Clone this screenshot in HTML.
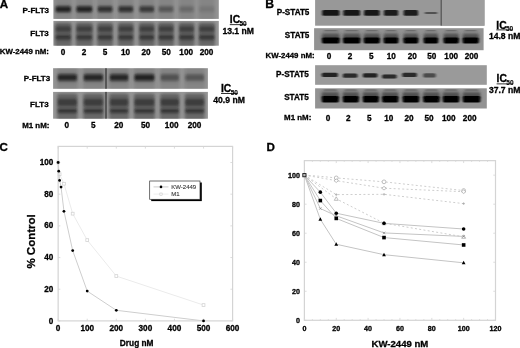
<!DOCTYPE html>
<html lang="en"><head><meta charset="utf-8"><title>KW-2449 figure</title>
<style>html,body{margin:0;padding:0;background:#fff;}body{width:520px;height:348px;overflow:hidden;}svg{display:block;font-family:'Liberation Sans', sans-serif;}</style>
</head><body>
<svg width="520" height="348" viewBox="0 0 520 348">
<defs>
<filter id="b1" x="-20%" y="-60%" width="140%" height="220%"><feGaussianBlur stdDeviation="1.3 1.1"/></filter>
<filter id="b2" x="-20%" y="-60%" width="140%" height="220%"><feGaussianBlur stdDeviation="1.4 1.6"/></filter>
<filter id="b0" x="-20%" y="-60%" width="140%" height="220%"><feGaussianBlur stdDeviation="0.8 0.6"/></filter>
<filter id="bl" x="-30%" y="-10%" width="160%" height="120%"><feGaussianBlur stdDeviation="1.6 0.8"/></filter>
<filter id="soft" x="0" y="0" width="520" height="348" filterUnits="userSpaceOnUse"><feGaussianBlur stdDeviation="0.4"/></filter>
<clipPath id="cA1"><rect x="53.4" y="0" width="165.4" height="18.9"/></clipPath>
<clipPath id="cA2"><rect x="53.4" y="20.9" width="165.4" height="24.800000000000004"/></clipPath>
<clipPath id="cA3"><rect x="53.1" y="68.2" width="154.8" height="20.599999999999994"/></clipPath>
<clipPath id="cA4"><rect x="53.1" y="91.9" width="154.8" height="26.799999999999997"/></clipPath>
<clipPath id="cB1"><rect x="315.1" y="0" width="169.39999999999998" height="25.7"/></clipPath>
<clipPath id="cB2"><rect x="314.1" y="28.2" width="169.5" height="22.000000000000004"/></clipPath>
<clipPath id="cB3"><rect x="315.1" y="65.2" width="171.7" height="19.599999999999994"/></clipPath>
<clipPath id="cB4"><rect x="315.1" y="88.3" width="171.7" height="20.200000000000003"/></clipPath>
</defs>
<rect width="520" height="348" fill="#fff"/>
<g filter="url(#soft)">
<g id="panelA">
<text x="-0.20" y="8.30" font-size="11.6" text-anchor="start" font-weight="bold" fill="#000" stroke="#000" stroke-width="0.3" >A</text>
<rect x="53.40" y="0.00" width="165.40" height="18.90" fill="#949494" />
<rect x="53.40" y="20.90" width="165.40" height="24.80" fill="#969696" />
<g clip-path="url(#cA1)">
<rect x="55.00" y="-3.00" width="16.60" height="25.00" rx="1.5" fill="#555" opacity="0.22" filter="url(#bl)"/>
<rect x="55.50" y="5.20" width="15.60" height="8.00" rx="1.5" fill="#333" opacity="0.2975" filter="url(#b2)"/>
<rect x="55.80" y="6.60" width="15.00" height="5.20" rx="1.5" fill="#161616" opacity="0.85" filter="url(#b1)"/>
<rect x="75.80" y="-3.00" width="17.10" height="25.00" rx="1.5" fill="#555" opacity="0.22" filter="url(#bl)"/>
<rect x="76.30" y="5.20" width="16.10" height="8.00" rx="1.5" fill="#333" opacity="0.2975" filter="url(#b2)"/>
<rect x="76.60" y="6.60" width="15.50" height="5.20" rx="1.5" fill="#161616" opacity="0.85" filter="url(#b1)"/>
<rect x="97.10" y="-3.00" width="16.00" height="25.00" rx="1.5" fill="#555" opacity="0.22" filter="url(#bl)"/>
<rect x="97.60" y="5.20" width="15.00" height="8.00" rx="1.5" fill="#333" opacity="0.24499999999999997" filter="url(#b2)"/>
<rect x="97.90" y="6.60" width="14.40" height="5.20" rx="1.5" fill="#161616" opacity="0.7" filter="url(#b1)"/>
<rect x="117.80" y="-3.00" width="16.00" height="25.00" rx="1.5" fill="#555" opacity="0.22" filter="url(#bl)"/>
<rect x="118.30" y="5.20" width="15.00" height="8.00" rx="1.5" fill="#333" opacity="0.24499999999999997" filter="url(#b2)"/>
<rect x="118.60" y="6.60" width="14.40" height="5.20" rx="1.5" fill="#161616" opacity="0.7" filter="url(#b1)"/>
<rect x="138.80" y="-3.00" width="16.00" height="25.00" rx="1.5" fill="#555" opacity="0.22" filter="url(#bl)"/>
<rect x="139.30" y="5.20" width="15.00" height="8.00" rx="1.5" fill="#333" opacity="0.217" filter="url(#b2)"/>
<rect x="139.60" y="6.60" width="14.40" height="5.20" rx="1.5" fill="#161616" opacity="0.62" filter="url(#b1)"/>
<rect x="157.90" y="-3.00" width="16.20" height="25.00" rx="1.5" fill="#555" opacity="0.22" filter="url(#bl)"/>
<rect x="158.40" y="5.20" width="15.20" height="8.00" rx="1.5" fill="#333" opacity="0.12249999999999998" filter="url(#b2)"/>
<rect x="158.70" y="6.60" width="14.60" height="5.20" rx="1.5" fill="#161616" opacity="0.35" filter="url(#b1)"/>
<rect x="178.60" y="-3.00" width="15.90" height="25.00" rx="1.5" fill="#555" opacity="0.22" filter="url(#bl)"/>
<rect x="179.10" y="5.20" width="14.90" height="8.00" rx="1.5" fill="#333" opacity="0.06999999999999999" filter="url(#b2)"/>
<rect x="179.40" y="6.60" width="14.30" height="5.20" rx="1.5" fill="#161616" opacity="0.2" filter="url(#b1)"/>
<rect x="198.50" y="-3.00" width="16.60" height="25.00" rx="1.5" fill="#555" opacity="0.22" filter="url(#bl)"/>
<rect x="199.00" y="5.20" width="15.60" height="8.00" rx="1.5" fill="#333" opacity="0.034999999999999996" filter="url(#b2)"/>
<rect x="199.30" y="6.60" width="15.00" height="5.20" rx="1.5" fill="#161616" opacity="0.1" filter="url(#b1)"/>
</g>
<g clip-path="url(#cA2)">
<rect x="55.20" y="22.50" width="16.20" height="27.50" rx="1.5" fill="#3a3a3a" opacity="0.5" filter="url(#bl)"/>
<rect x="55.50" y="24.50" width="15.60" height="17.50" rx="1.5" fill="#383838" opacity="0.22" filter="url(#b2)"/>
<rect x="55.80" y="26.40" width="15.00" height="5.20" rx="1.5" fill="#222" opacity="0.5" filter="url(#b1)"/>
<rect x="55.80" y="35.20" width="15.00" height="4.00" rx="1.5" fill="#1c1c1c" opacity="0.6" filter="url(#b1)"/>
<rect x="76.00" y="22.50" width="16.70" height="27.50" rx="1.5" fill="#3a3a3a" opacity="0.5" filter="url(#bl)"/>
<rect x="76.30" y="24.50" width="16.10" height="17.50" rx="1.5" fill="#383838" opacity="0.22" filter="url(#b2)"/>
<rect x="76.60" y="26.40" width="15.50" height="5.20" rx="1.5" fill="#222" opacity="0.5" filter="url(#b1)"/>
<rect x="76.60" y="35.20" width="15.50" height="4.00" rx="1.5" fill="#1c1c1c" opacity="0.6" filter="url(#b1)"/>
<rect x="97.30" y="22.50" width="15.60" height="27.50" rx="1.5" fill="#3a3a3a" opacity="0.5" filter="url(#bl)"/>
<rect x="97.60" y="24.50" width="15.00" height="17.50" rx="1.5" fill="#383838" opacity="0.22" filter="url(#b2)"/>
<rect x="97.90" y="26.40" width="14.40" height="5.20" rx="1.5" fill="#222" opacity="0.5" filter="url(#b1)"/>
<rect x="97.90" y="35.20" width="14.40" height="4.00" rx="1.5" fill="#1c1c1c" opacity="0.6" filter="url(#b1)"/>
<rect x="118.00" y="22.50" width="15.60" height="27.50" rx="1.5" fill="#3a3a3a" opacity="0.5" filter="url(#bl)"/>
<rect x="118.30" y="24.50" width="15.00" height="17.50" rx="1.5" fill="#383838" opacity="0.22" filter="url(#b2)"/>
<rect x="118.60" y="26.40" width="14.40" height="5.20" rx="1.5" fill="#222" opacity="0.5" filter="url(#b1)"/>
<rect x="118.60" y="35.20" width="14.40" height="4.00" rx="1.5" fill="#1c1c1c" opacity="0.6" filter="url(#b1)"/>
<rect x="139.00" y="22.50" width="15.60" height="27.50" rx="1.5" fill="#3a3a3a" opacity="0.5" filter="url(#bl)"/>
<rect x="139.30" y="24.50" width="15.00" height="17.50" rx="1.5" fill="#383838" opacity="0.22" filter="url(#b2)"/>
<rect x="139.60" y="26.40" width="14.40" height="5.20" rx="1.5" fill="#222" opacity="0.5" filter="url(#b1)"/>
<rect x="139.60" y="35.20" width="14.40" height="4.00" rx="1.5" fill="#1c1c1c" opacity="0.6" filter="url(#b1)"/>
<rect x="158.10" y="22.50" width="15.80" height="27.50" rx="1.5" fill="#3a3a3a" opacity="0.5" filter="url(#bl)"/>
<rect x="158.40" y="24.50" width="15.20" height="17.50" rx="1.5" fill="#383838" opacity="0.22" filter="url(#b2)"/>
<rect x="158.70" y="26.40" width="14.60" height="5.20" rx="1.5" fill="#222" opacity="0.5" filter="url(#b1)"/>
<rect x="158.70" y="35.20" width="14.60" height="4.00" rx="1.5" fill="#1c1c1c" opacity="0.6" filter="url(#b1)"/>
<rect x="178.80" y="22.50" width="15.50" height="27.50" rx="1.5" fill="#3a3a3a" opacity="0.5" filter="url(#bl)"/>
<rect x="179.10" y="24.50" width="14.90" height="17.50" rx="1.5" fill="#383838" opacity="0.22" filter="url(#b2)"/>
<rect x="179.40" y="26.40" width="14.30" height="5.20" rx="1.5" fill="#222" opacity="0.5" filter="url(#b1)"/>
<rect x="179.40" y="35.20" width="14.30" height="4.00" rx="1.5" fill="#1c1c1c" opacity="0.6" filter="url(#b1)"/>
<rect x="198.70" y="22.50" width="16.20" height="27.50" rx="1.5" fill="#3a3a3a" opacity="0.5" filter="url(#bl)"/>
<rect x="199.00" y="24.50" width="15.60" height="17.50" rx="1.5" fill="#383838" opacity="0.22" filter="url(#b2)"/>
<rect x="199.30" y="26.40" width="15.00" height="5.20" rx="1.5" fill="#222" opacity="0.5" filter="url(#b1)"/>
<rect x="199.30" y="35.20" width="15.00" height="4.00" rx="1.5" fill="#1c1c1c" opacity="0.6" filter="url(#b1)"/>
</g>
<text x="49.00" y="12.90" font-size="8.0" text-anchor="end" font-weight="bold" fill="#000" stroke="#000" stroke-width="0.3" >P-FLT3</text>
<text x="48.80" y="35.50" font-size="8.0" text-anchor="end" font-weight="bold" fill="#000" stroke="#000" stroke-width="0.3" >FLT3</text>
<text x="48.90" y="54.20" font-size="7.85" text-anchor="end" font-weight="bold" fill="#000" stroke="#000" stroke-width="0.3" >KW-2449 nM:</text>
<text x="63.00" y="54.90" font-size="8.2" text-anchor="middle" font-weight="bold" fill="#000" stroke="#000" stroke-width="0.3" >0</text>
<text x="84.00" y="54.90" font-size="8.2" text-anchor="middle" font-weight="bold" fill="#000" stroke="#000" stroke-width="0.3" >2</text>
<text x="105.00" y="54.90" font-size="8.2" text-anchor="middle" font-weight="bold" fill="#000" stroke="#000" stroke-width="0.3" >5</text>
<text x="125.60" y="54.90" font-size="8.2" text-anchor="middle" font-weight="bold" fill="#000" stroke="#000" stroke-width="0.3" >10</text>
<text x="146.00" y="54.90" font-size="8.2" text-anchor="middle" font-weight="bold" fill="#000" stroke="#000" stroke-width="0.3" >20</text>
<text x="166.30" y="54.90" font-size="8.2" text-anchor="middle" font-weight="bold" fill="#000" stroke="#000" stroke-width="0.3" >50</text>
<text x="186.20" y="54.90" font-size="8.2" text-anchor="middle" font-weight="bold" fill="#000" stroke="#000" stroke-width="0.3" >100</text>
<text x="206.60" y="54.90" font-size="8.2" text-anchor="middle" font-weight="bold" fill="#000" stroke="#000" stroke-width="0.3" >200</text>
<text x="229.8" y="23.4" font-size="10.3" font-weight="bold" stroke="#000" stroke-width="0.3">IC<tspan font-size="6.5" dy="2.4" dx="-0.6" stroke-width="0.1">50</tspan></text>
<rect x="229.80" y="24.30" width="16.60" height="0.80" fill="#000" />
<text x="222.40" y="34.20" font-size="8.6" text-anchor="start" font-weight="bold" fill="#000" stroke="#000" stroke-width="0.3" >13.1 nM</text>
<rect x="53.10" y="68.20" width="154.80" height="20.60" fill="#949494" />
<rect x="53.10" y="91.90" width="154.80" height="26.80" fill="#969696" />
<g clip-path="url(#cA3)">
<rect x="57.00" y="64.00" width="20.60" height="28.00" rx="1.5" fill="#555" opacity="0.22" filter="url(#bl)"/>
<rect x="57.50" y="73.00" width="19.60" height="9.40" rx="1.5" fill="#333" opacity="0.27999999999999997" filter="url(#b2)"/>
<rect x="57.80" y="74.40" width="19.00" height="6.20" rx="1.5" fill="#161616" opacity="0.8" filter="url(#b1)"/>
<rect x="83.10" y="64.00" width="20.60" height="28.00" rx="1.5" fill="#555" opacity="0.22" filter="url(#bl)"/>
<rect x="83.60" y="73.00" width="19.60" height="9.40" rx="1.5" fill="#333" opacity="0.27999999999999997" filter="url(#b2)"/>
<rect x="83.90" y="74.40" width="19.00" height="6.20" rx="1.5" fill="#161616" opacity="0.8" filter="url(#b1)"/>
<rect x="109.20" y="64.00" width="19.70" height="28.00" rx="1.5" fill="#555" opacity="0.22" filter="url(#bl)"/>
<rect x="109.70" y="73.00" width="18.70" height="9.40" rx="1.5" fill="#333" opacity="0.27999999999999997" filter="url(#b2)"/>
<rect x="110.00" y="74.40" width="18.10" height="6.20" rx="1.5" fill="#161616" opacity="0.8" filter="url(#b1)"/>
<rect x="133.80" y="64.00" width="21.20" height="28.00" rx="1.5" fill="#555" opacity="0.22" filter="url(#bl)"/>
<rect x="134.30" y="73.00" width="20.20" height="9.40" rx="1.5" fill="#333" opacity="0.2975" filter="url(#b2)"/>
<rect x="134.60" y="74.40" width="19.60" height="6.20" rx="1.5" fill="#161616" opacity="0.85" filter="url(#b1)"/>
<rect x="160.00" y="64.00" width="19.60" height="28.00" rx="1.5" fill="#555" opacity="0.22" filter="url(#bl)"/>
<rect x="160.50" y="73.00" width="18.60" height="9.40" rx="1.5" fill="#333" opacity="0.13999999999999999" filter="url(#b2)"/>
<rect x="160.80" y="74.40" width="18.00" height="6.20" rx="1.5" fill="#161616" opacity="0.4" filter="url(#b1)"/>
<rect x="184.60" y="64.00" width="20.20" height="28.00" rx="1.5" fill="#555" opacity="0.22" filter="url(#bl)"/>
<rect x="185.10" y="73.00" width="19.20" height="9.40" rx="1.5" fill="#333" opacity="0.12249999999999998" filter="url(#b2)"/>
<rect x="185.40" y="74.40" width="18.60" height="6.20" rx="1.5" fill="#161616" opacity="0.35" filter="url(#b1)"/>
</g>
<g clip-path="url(#cA4)">
<rect x="57.20" y="93.50" width="20.20" height="29.50" rx="1.5" fill="#3a3a3a" opacity="0.5" filter="url(#bl)"/>
<rect x="57.50" y="96.50" width="19.60" height="17.50" rx="1.5" fill="#383838" opacity="0.22" filter="url(#b2)"/>
<rect x="57.80" y="99.20" width="19.00" height="6.20" rx="1.5" fill="#222" opacity="0.55" filter="url(#b1)"/>
<rect x="57.80" y="109.20" width="19.00" height="3.40" rx="1.5" fill="#1c1c1c" opacity="0.65" filter="url(#b1)"/>
<rect x="83.30" y="93.50" width="20.20" height="29.50" rx="1.5" fill="#3a3a3a" opacity="0.5" filter="url(#bl)"/>
<rect x="83.60" y="96.50" width="19.60" height="17.50" rx="1.5" fill="#383838" opacity="0.22" filter="url(#b2)"/>
<rect x="83.90" y="99.20" width="19.00" height="6.20" rx="1.5" fill="#222" opacity="0.55" filter="url(#b1)"/>
<rect x="83.90" y="109.20" width="19.00" height="3.40" rx="1.5" fill="#1c1c1c" opacity="0.65" filter="url(#b1)"/>
<rect x="109.40" y="93.50" width="19.30" height="29.50" rx="1.5" fill="#3a3a3a" opacity="0.5" filter="url(#bl)"/>
<rect x="109.70" y="96.50" width="18.70" height="17.50" rx="1.5" fill="#383838" opacity="0.22" filter="url(#b2)"/>
<rect x="110.00" y="99.20" width="18.10" height="6.20" rx="1.5" fill="#222" opacity="0.55" filter="url(#b1)"/>
<rect x="110.00" y="109.20" width="18.10" height="3.40" rx="1.5" fill="#1c1c1c" opacity="0.65" filter="url(#b1)"/>
<rect x="134.00" y="93.50" width="20.80" height="29.50" rx="1.5" fill="#3a3a3a" opacity="0.5" filter="url(#bl)"/>
<rect x="134.30" y="96.50" width="20.20" height="17.50" rx="1.5" fill="#383838" opacity="0.22" filter="url(#b2)"/>
<rect x="134.60" y="99.20" width="19.60" height="6.20" rx="1.5" fill="#222" opacity="0.55" filter="url(#b1)"/>
<rect x="134.60" y="109.20" width="19.60" height="3.40" rx="1.5" fill="#1c1c1c" opacity="0.65" filter="url(#b1)"/>
<rect x="160.20" y="93.50" width="19.20" height="29.50" rx="1.5" fill="#3a3a3a" opacity="0.5" filter="url(#bl)"/>
<rect x="160.50" y="96.50" width="18.60" height="17.50" rx="1.5" fill="#383838" opacity="0.22" filter="url(#b2)"/>
<rect x="160.80" y="99.20" width="18.00" height="6.20" rx="1.5" fill="#222" opacity="0.55" filter="url(#b1)"/>
<rect x="160.80" y="109.20" width="18.00" height="3.40" rx="1.5" fill="#1c1c1c" opacity="0.65" filter="url(#b1)"/>
<rect x="184.80" y="93.50" width="19.80" height="29.50" rx="1.5" fill="#3a3a3a" opacity="0.5" filter="url(#bl)"/>
<rect x="185.10" y="96.50" width="19.20" height="17.50" rx="1.5" fill="#383838" opacity="0.22" filter="url(#b2)"/>
<rect x="185.40" y="99.20" width="18.60" height="6.20" rx="1.5" fill="#222" opacity="0.55" filter="url(#b1)"/>
<rect x="185.40" y="109.20" width="18.60" height="3.40" rx="1.5" fill="#1c1c1c" opacity="0.65" filter="url(#b1)"/>
</g>
<rect x="105.50" y="68.20" width="1.00" height="20.60" fill="#1a1a1a" />
<rect x="105.50" y="91.90" width="1.00" height="26.80" fill="#1a1a1a" />
<text x="50.20" y="80.50" font-size="8.0" text-anchor="end" font-weight="bold" fill="#000" stroke="#000" stroke-width="0.3" >P-FLT3</text>
<text x="48.60" y="107.00" font-size="8.0" text-anchor="end" font-weight="bold" fill="#000" stroke="#000" stroke-width="0.3" >FLT3</text>
<text x="49.40" y="127.50" font-size="7.9" text-anchor="end" font-weight="bold" fill="#000" stroke="#000" stroke-width="0.3" >M1 nM:</text>
<text x="66.80" y="127.80" font-size="8.2" text-anchor="middle" font-weight="bold" fill="#000" stroke="#000" stroke-width="0.3" >0</text>
<text x="93.30" y="127.80" font-size="8.2" text-anchor="middle" font-weight="bold" fill="#000" stroke="#000" stroke-width="0.3" >5</text>
<text x="118.70" y="127.80" font-size="8.2" text-anchor="middle" font-weight="bold" fill="#000" stroke="#000" stroke-width="0.3" >20</text>
<text x="145.50" y="127.80" font-size="8.2" text-anchor="middle" font-weight="bold" fill="#000" stroke="#000" stroke-width="0.3" >50</text>
<text x="171.70" y="127.80" font-size="8.2" text-anchor="middle" font-weight="bold" fill="#000" stroke="#000" stroke-width="0.3" >100</text>
<text x="194.50" y="127.80" font-size="8.2" text-anchor="middle" font-weight="bold" fill="#000" stroke="#000" stroke-width="0.3" >200</text>
<text x="221" y="92.3" font-size="10.3" font-weight="bold" stroke="#000" stroke-width="0.3">IC<tspan font-size="6.5" dy="2.4" dx="-0.6" stroke-width="0.1">50</tspan></text>
<rect x="221.00" y="93.20" width="16.60" height="0.80" fill="#000" />
<text x="213.30" y="102.70" font-size="8.6" text-anchor="start" font-weight="bold" fill="#000" stroke="#000" stroke-width="0.3" >40.9 nM</text>
</g>
<g id="panelB">
<text x="265.20" y="8.10" font-size="12.2" text-anchor="start" font-weight="bold" fill="#000" stroke="#000" stroke-width="0.3" >B</text>
<rect x="315.10" y="0.00" width="169.40" height="25.70" fill="#989898" />
<rect x="441.60" y="0.00" width="42.90" height="25.70" fill="#9e9e9e" />
<rect x="440.70" y="0.00" width="0.90" height="25.70" fill="#3c3c3c" />
<rect x="314.10" y="28.20" width="169.50" height="22.00" fill="#929292" />
<g clip-path="url(#cB1)">
<rect x="322.20" y="9.90" width="17.20" height="5.80" rx="1.5" fill="#0a0a0a" opacity="0.95" filter="url(#b0)"/>
<rect x="343.30" y="9.90" width="16.80" height="5.80" rx="1.5" fill="#0a0a0a" opacity="0.92" filter="url(#b0)"/>
<rect x="364.00" y="9.90" width="15.60" height="5.80" rx="1.5" fill="#0a0a0a" opacity="0.92" filter="url(#b0)"/>
<rect x="383.90" y="9.90" width="14.20" height="5.80" rx="1.5" fill="#0a0a0a" opacity="0.88" filter="url(#b0)"/>
<rect x="403.70" y="9.90" width="14.30" height="5.80" rx="1.5" fill="#0a0a0a" opacity="0.9" filter="url(#b0)"/>
<rect x="424.50" y="11.90" width="12.80" height="2.20" rx="1.5" fill="#222" opacity="0.6" filter="url(#b0)"/>
</g>
<g clip-path="url(#cB2)">
<rect x="321.80" y="33.60" width="18.00" height="7.40" rx="1.5" fill="#2c2c2c" opacity="0.65" filter="url(#b2)"/>
<rect x="322.00" y="37.60" width="17.60" height="5.80" rx="1.5" fill="#060606" opacity="0.97" filter="url(#b0)"/>
<rect x="323.80" y="30.30" width="14.00" height="1.00" rx="1.5" fill="#333" opacity="0.5" filter="url(#b0)"/>
<rect x="342.90" y="33.60" width="17.60" height="7.40" rx="1.5" fill="#2c2c2c" opacity="0.65" filter="url(#b2)"/>
<rect x="343.10" y="37.60" width="17.20" height="5.80" rx="1.5" fill="#060606" opacity="0.97" filter="url(#b0)"/>
<rect x="344.90" y="30.30" width="13.60" height="1.00" rx="1.5" fill="#333" opacity="0.5" filter="url(#b0)"/>
<rect x="363.60" y="33.60" width="16.40" height="7.40" rx="1.5" fill="#2c2c2c" opacity="0.65" filter="url(#b2)"/>
<rect x="363.80" y="37.60" width="16.00" height="5.80" rx="1.5" fill="#060606" opacity="0.97" filter="url(#b0)"/>
<rect x="365.60" y="30.30" width="12.40" height="1.00" rx="1.5" fill="#333" opacity="0.5" filter="url(#b0)"/>
<rect x="383.50" y="33.60" width="15.00" height="7.40" rx="1.5" fill="#2c2c2c" opacity="0.65" filter="url(#b2)"/>
<rect x="383.70" y="37.60" width="14.60" height="5.80" rx="1.5" fill="#060606" opacity="0.97" filter="url(#b0)"/>
<rect x="385.50" y="30.30" width="11.00" height="1.00" rx="1.5" fill="#333" opacity="0.5" filter="url(#b0)"/>
<rect x="403.30" y="33.60" width="15.10" height="7.40" rx="1.5" fill="#2c2c2c" opacity="0.65" filter="url(#b2)"/>
<rect x="403.50" y="37.60" width="14.70" height="5.80" rx="1.5" fill="#060606" opacity="0.97" filter="url(#b0)"/>
<rect x="405.30" y="30.30" width="11.10" height="1.00" rx="1.5" fill="#333" opacity="0.5" filter="url(#b0)"/>
<rect x="423.50" y="33.60" width="14.80" height="7.40" rx="1.5" fill="#2c2c2c" opacity="0.65" filter="url(#b2)"/>
<rect x="423.70" y="37.60" width="14.40" height="5.80" rx="1.5" fill="#060606" opacity="0.97" filter="url(#b0)"/>
<rect x="425.50" y="30.30" width="10.80" height="1.00" rx="1.5" fill="#333" opacity="0.5" filter="url(#b0)"/>
<rect x="443.40" y="33.60" width="15.60" height="7.40" rx="1.5" fill="#2c2c2c" opacity="0.65" filter="url(#b2)"/>
<rect x="443.60" y="37.60" width="15.20" height="5.80" rx="1.5" fill="#060606" opacity="0.97" filter="url(#b0)"/>
<rect x="445.40" y="30.30" width="11.60" height="1.00" rx="1.5" fill="#333" opacity="0.5" filter="url(#b0)"/>
<rect x="462.50" y="33.60" width="16.40" height="7.40" rx="1.5" fill="#2c2c2c" opacity="0.65" filter="url(#b2)"/>
<rect x="462.70" y="37.60" width="16.00" height="5.80" rx="1.5" fill="#060606" opacity="0.97" filter="url(#b0)"/>
<rect x="464.50" y="30.30" width="12.40" height="1.00" rx="1.5" fill="#333" opacity="0.5" filter="url(#b0)"/>
</g>
<text x="309.40" y="15.30" font-size="8.15" text-anchor="end" font-weight="bold" fill="#000" stroke="#000" stroke-width="0.3" >P-STAT5</text>
<text x="309.40" y="37.60" font-size="8.15" text-anchor="end" font-weight="bold" fill="#000" stroke="#000" stroke-width="0.3" >STAT5</text>
<text x="314.60" y="58.00" font-size="7.85" text-anchor="end" font-weight="bold" fill="#000" stroke="#000" stroke-width="0.3" >KW-2449 nM:</text>
<text x="329.00" y="58.70" font-size="8.2" text-anchor="middle" font-weight="bold" fill="#000" stroke="#000" stroke-width="0.3" >0</text>
<text x="350.10" y="58.70" font-size="8.2" text-anchor="middle" font-weight="bold" fill="#000" stroke="#000" stroke-width="0.3" >2</text>
<text x="371.40" y="58.70" font-size="8.2" text-anchor="middle" font-weight="bold" fill="#000" stroke="#000" stroke-width="0.3" >5</text>
<text x="391.30" y="58.70" font-size="8.2" text-anchor="middle" font-weight="bold" fill="#000" stroke="#000" stroke-width="0.3" >10</text>
<text x="412.30" y="58.70" font-size="8.2" text-anchor="middle" font-weight="bold" fill="#000" stroke="#000" stroke-width="0.3" >20</text>
<text x="431.70" y="58.70" font-size="8.2" text-anchor="middle" font-weight="bold" fill="#000" stroke="#000" stroke-width="0.3" >50</text>
<text x="451.20" y="58.70" font-size="8.2" text-anchor="middle" font-weight="bold" fill="#000" stroke="#000" stroke-width="0.3" >100</text>
<text x="471.60" y="58.70" font-size="8.2" text-anchor="middle" font-weight="bold" fill="#000" stroke="#000" stroke-width="0.3" >200</text>
<text x="496.3" y="28.6" font-size="10.3" font-weight="bold" stroke="#000" stroke-width="0.3">IC<tspan font-size="6.5" dy="2.4" dx="-0.6" stroke-width="0.1">50</tspan></text>
<rect x="496.30" y="29.50" width="16.60" height="0.80" fill="#000" />
<text x="488.90" y="39.40" font-size="8.6" text-anchor="start" font-weight="bold" fill="#000" stroke="#000" stroke-width="0.3" >14.8 nM</text>
<rect x="315.10" y="65.20" width="171.70" height="19.60" fill="#9a9a9a" />
<rect x="315.10" y="88.30" width="171.70" height="20.20" fill="#929292" />
<g clip-path="url(#cB3)">
<rect x="321.80" y="72.80" width="16.00" height="4.20" rx="1.5" fill="#0c0c0c" opacity="0.85" filter="url(#b0)"/>
<rect x="342.90" y="73.60" width="14.50" height="4.20" rx="1.5" fill="#0c0c0c" opacity="0.8" filter="url(#b0)"/>
<rect x="362.90" y="73.20" width="14.50" height="4.20" rx="1.5" fill="#0c0c0c" opacity="0.85" filter="url(#b0)"/>
<rect x="382.10" y="74.40" width="14.50" height="4.20" rx="1.5" fill="#0c0c0c" opacity="0.8" filter="url(#b0)"/>
<rect x="402.30" y="72.80" width="14.50" height="4.20" rx="1.5" fill="#0c0c0c" opacity="0.8" filter="url(#b0)"/>
<rect x="423.20" y="73.20" width="12.60" height="4.20" rx="1.5" fill="#0c0c0c" opacity="0.55" filter="url(#b0)"/>
</g>
<g clip-path="url(#cB4)">
<rect x="321.60" y="92.00" width="17.40" height="7.50" rx="1.5" fill="#2c2c2c" opacity="0.65" filter="url(#b2)"/>
<rect x="321.80" y="96.00" width="17.00" height="6.40" rx="1.5" fill="#060606" opacity="0.97" filter="url(#b0)"/>
<rect x="323.60" y="89.50" width="13.40" height="1.00" rx="1.5" fill="#333" opacity="0.55" filter="url(#b0)"/>
<rect x="342.70" y="92.00" width="16.30" height="7.50" rx="1.5" fill="#2c2c2c" opacity="0.65" filter="url(#b2)"/>
<rect x="342.90" y="96.00" width="15.90" height="6.40" rx="1.5" fill="#060606" opacity="0.97" filter="url(#b0)"/>
<rect x="344.70" y="89.50" width="12.30" height="1.00" rx="1.5" fill="#333" opacity="0.55" filter="url(#b0)"/>
<rect x="362.70" y="92.00" width="16.30" height="7.50" rx="1.5" fill="#2c2c2c" opacity="0.65" filter="url(#b2)"/>
<rect x="362.90" y="96.00" width="15.90" height="6.40" rx="1.5" fill="#060606" opacity="0.97" filter="url(#b0)"/>
<rect x="364.70" y="89.50" width="12.30" height="1.00" rx="1.5" fill="#333" opacity="0.55" filter="url(#b0)"/>
<rect x="381.90" y="92.00" width="16.60" height="7.50" rx="1.5" fill="#2c2c2c" opacity="0.65" filter="url(#b2)"/>
<rect x="382.10" y="96.00" width="16.20" height="6.40" rx="1.5" fill="#060606" opacity="0.97" filter="url(#b0)"/>
<rect x="383.90" y="89.50" width="12.60" height="1.00" rx="1.5" fill="#333" opacity="0.55" filter="url(#b0)"/>
<rect x="402.50" y="92.00" width="16.80" height="7.50" rx="1.5" fill="#2c2c2c" opacity="0.65" filter="url(#b2)"/>
<rect x="402.70" y="96.00" width="16.40" height="6.40" rx="1.5" fill="#060606" opacity="0.97" filter="url(#b0)"/>
<rect x="404.50" y="89.50" width="12.80" height="1.00" rx="1.5" fill="#333" opacity="0.55" filter="url(#b0)"/>
<rect x="423.00" y="92.00" width="16.80" height="7.50" rx="1.5" fill="#2c2c2c" opacity="0.65" filter="url(#b2)"/>
<rect x="423.20" y="96.00" width="16.40" height="6.40" rx="1.5" fill="#060606" opacity="0.97" filter="url(#b0)"/>
<rect x="425.00" y="89.50" width="12.80" height="1.00" rx="1.5" fill="#333" opacity="0.55" filter="url(#b0)"/>
<rect x="442.60" y="92.00" width="16.80" height="7.50" rx="1.5" fill="#2c2c2c" opacity="0.65" filter="url(#b2)"/>
<rect x="442.80" y="96.00" width="16.40" height="6.40" rx="1.5" fill="#060606" opacity="0.97" filter="url(#b0)"/>
<rect x="444.60" y="89.50" width="12.80" height="1.00" rx="1.5" fill="#333" opacity="0.55" filter="url(#b0)"/>
<rect x="462.60" y="92.00" width="17.90" height="7.50" rx="1.5" fill="#2c2c2c" opacity="0.65" filter="url(#b2)"/>
<rect x="462.80" y="96.00" width="17.50" height="6.40" rx="1.5" fill="#060606" opacity="0.97" filter="url(#b0)"/>
<rect x="464.60" y="89.50" width="13.90" height="1.00" rx="1.5" fill="#333" opacity="0.55" filter="url(#b0)"/>
</g>
<text x="308.70" y="77.20" font-size="8.15" text-anchor="end" font-weight="bold" fill="#000" stroke="#000" stroke-width="0.3" >P-STAT5</text>
<text x="308.70" y="100.00" font-size="8.15" text-anchor="end" font-weight="bold" fill="#000" stroke="#000" stroke-width="0.3" >STAT5</text>
<text x="311.30" y="120.30" font-size="7.9" text-anchor="end" font-weight="bold" fill="#000" stroke="#000" stroke-width="0.3" >M1 nM:</text>
<text x="328.10" y="120.80" font-size="8.2" text-anchor="middle" font-weight="bold" fill="#000" stroke="#000" stroke-width="0.3" >0</text>
<text x="348.30" y="120.80" font-size="8.2" text-anchor="middle" font-weight="bold" fill="#000" stroke="#000" stroke-width="0.3" >2</text>
<text x="369.40" y="120.80" font-size="8.2" text-anchor="middle" font-weight="bold" fill="#000" stroke="#000" stroke-width="0.3" >5</text>
<text x="388.80" y="120.80" font-size="8.2" text-anchor="middle" font-weight="bold" fill="#000" stroke="#000" stroke-width="0.3" >10</text>
<text x="409.00" y="120.80" font-size="8.2" text-anchor="middle" font-weight="bold" fill="#000" stroke="#000" stroke-width="0.3" >20</text>
<text x="429.00" y="120.80" font-size="8.2" text-anchor="middle" font-weight="bold" fill="#000" stroke="#000" stroke-width="0.3" >50</text>
<text x="448.80" y="120.80" font-size="8.2" text-anchor="middle" font-weight="bold" fill="#000" stroke="#000" stroke-width="0.3" >100</text>
<text x="469.70" y="120.80" font-size="8.2" text-anchor="middle" font-weight="bold" fill="#000" stroke="#000" stroke-width="0.3" >200</text>
<text x="496.6" y="82.4" font-size="10.3" font-weight="bold" stroke="#000" stroke-width="0.3">IC<tspan font-size="6.5" dy="2.4" dx="-0.6" stroke-width="0.1">50</tspan></text>
<rect x="496.60" y="83.50" width="16.60" height="0.80" fill="#000" />
<text x="488.90" y="93.40" font-size="8.6" text-anchor="start" font-weight="bold" fill="#000" stroke="#000" stroke-width="0.3" >37.7 nM</text>
</g>
<g id="panelC">
<text x="-0.50" y="150.80" font-size="11.6" text-anchor="start" font-weight="bold" fill="#000" stroke="#000" stroke-width="0.3" >C</text>
<rect x="58.15" y="146.40" width="174.45" height="174.50" fill="none" stroke="#d4d4d4" stroke-width="1.2"/>
<path d="M58.15 320.90v-2.2M58.15 146.40v2.2" stroke="#d4d4d4" stroke-width="0.8" fill="none"/>
<text x="58.15" y="331.40" font-size="8.2" text-anchor="middle" font-weight="bold" fill="#000" stroke="#000" stroke-width="0.3" >0</text>
<path d="M87.22 320.90v-2.2M87.22 146.40v2.2" stroke="#d4d4d4" stroke-width="0.8" fill="none"/>
<text x="87.22" y="331.40" font-size="8.2" text-anchor="middle" font-weight="bold" fill="#000" stroke="#000" stroke-width="0.3" >100</text>
<path d="M116.30 320.90v-2.2M116.30 146.40v2.2" stroke="#d4d4d4" stroke-width="0.8" fill="none"/>
<text x="116.30" y="331.40" font-size="8.2" text-anchor="middle" font-weight="bold" fill="#000" stroke="#000" stroke-width="0.3" >200</text>
<path d="M145.38 320.90v-2.2M145.38 146.40v2.2" stroke="#d4d4d4" stroke-width="0.8" fill="none"/>
<text x="145.38" y="331.40" font-size="8.2" text-anchor="middle" font-weight="bold" fill="#000" stroke="#000" stroke-width="0.3" >300</text>
<path d="M174.45 320.90v-2.2M174.45 146.40v2.2" stroke="#d4d4d4" stroke-width="0.8" fill="none"/>
<text x="174.45" y="331.40" font-size="8.2" text-anchor="middle" font-weight="bold" fill="#000" stroke="#000" stroke-width="0.3" >400</text>
<path d="M203.53 320.90v-2.2M203.53 146.40v2.2" stroke="#d4d4d4" stroke-width="0.8" fill="none"/>
<text x="203.53" y="331.40" font-size="8.2" text-anchor="middle" font-weight="bold" fill="#000" stroke="#000" stroke-width="0.3" >500</text>
<path d="M232.60 320.90v-2.2M232.60 146.40v2.2" stroke="#d4d4d4" stroke-width="0.8" fill="none"/>
<text x="232.60" y="331.40" font-size="8.2" text-anchor="middle" font-weight="bold" fill="#000" stroke="#000" stroke-width="0.3" >600</text>
<path d="M58.15 320.90h2.2M232.60 320.90h-2.2" stroke="#d4d4d4" stroke-width="0.8" fill="none"/>
<text x="53.20" y="323.50" font-size="8.15" text-anchor="end" font-weight="bold" fill="#000" stroke="#000" stroke-width="0.3" >0</text>
<path d="M58.15 289.22h2.2M232.60 289.22h-2.2" stroke="#d4d4d4" stroke-width="0.8" fill="none"/>
<text x="53.20" y="291.82" font-size="8.15" text-anchor="end" font-weight="bold" fill="#000" stroke="#000" stroke-width="0.3" >20</text>
<path d="M58.15 257.54h2.2M232.60 257.54h-2.2" stroke="#d4d4d4" stroke-width="0.8" fill="none"/>
<text x="53.20" y="260.14" font-size="8.15" text-anchor="end" font-weight="bold" fill="#000" stroke="#000" stroke-width="0.3" >40</text>
<path d="M58.15 225.86h2.2M232.60 225.86h-2.2" stroke="#d4d4d4" stroke-width="0.8" fill="none"/>
<text x="53.20" y="228.46" font-size="8.15" text-anchor="end" font-weight="bold" fill="#000" stroke="#000" stroke-width="0.3" >60</text>
<path d="M58.15 194.18h2.2M232.60 194.18h-2.2" stroke="#d4d4d4" stroke-width="0.8" fill="none"/>
<text x="53.20" y="196.78" font-size="8.15" text-anchor="end" font-weight="bold" fill="#000" stroke="#000" stroke-width="0.3" >80</text>
<path d="M58.15 162.50h2.2M232.60 162.50h-2.2" stroke="#d4d4d4" stroke-width="0.8" fill="none"/>
<text x="53.20" y="165.10" font-size="8.15" text-anchor="end" font-weight="bold" fill="#000" stroke="#000" stroke-width="0.3" >100</text>
<polyline points="58.15,162.50 59.60,174.22 63.96,183.73 72.69,213.66 87.22,240.12 116.30,276.07 203.53,305.06" fill="none" stroke="#ebebeb" stroke-width="1"/>
<rect x="56.75" y="161.10" width="2.8" height="2.8" fill="#fff" stroke="#d4d4d4" stroke-width="0.8"/>
<rect x="58.20" y="172.82" width="2.8" height="2.8" fill="#fff" stroke="#d4d4d4" stroke-width="0.8"/>
<rect x="62.56" y="182.33" width="2.8" height="2.8" fill="#fff" stroke="#d4d4d4" stroke-width="0.8"/>
<rect x="71.29" y="212.26" width="2.8" height="2.8" fill="#fff" stroke="#d4d4d4" stroke-width="0.8"/>
<rect x="85.82" y="238.72" width="2.8" height="2.8" fill="#fff" stroke="#d4d4d4" stroke-width="0.8"/>
<rect x="114.90" y="274.67" width="2.8" height="2.8" fill="#fff" stroke="#d4d4d4" stroke-width="0.8"/>
<rect x="202.12" y="303.66" width="2.8" height="2.8" fill="#fff" stroke="#d4d4d4" stroke-width="0.8"/>
<polyline points="58.15,162.50 58.73,171.21 59.60,180.40 61.06,187.05 63.96,211.29 72.69,250.57 87.22,291.12 116.30,310.29 203.53,320.90" fill="none" stroke="#cecece" stroke-width="1"/>
<circle cx="58.15" cy="162.50" r="1.4" fill="#000"/>
<circle cx="58.73" cy="171.21" r="1.4" fill="#000"/>
<circle cx="59.60" cy="180.40" r="1.4" fill="#000"/>
<circle cx="61.06" cy="187.05" r="1.4" fill="#000"/>
<circle cx="63.96" cy="211.29" r="1.4" fill="#000"/>
<circle cx="72.69" cy="250.57" r="1.4" fill="#000"/>
<circle cx="87.22" cy="291.12" r="1.4" fill="#000"/>
<circle cx="116.30" cy="310.29" r="1.4" fill="#000"/>
<circle cx="203.53" cy="320.90" r="1.4" fill="#000"/>
<rect x="151.20" y="182.50" width="50.60" height="18.60" fill="#000" />
<rect x="149.7" y="181.0" width="50.3" height="18.3" fill="#fff" stroke="#333" stroke-width="0.7"/>
<path d="M153.5 186.9h15" stroke="#999" stroke-width="0.5"/>
<circle cx="161" cy="186.9" r="1.3" fill="#000"/>
<path d="M153.5 194.1h15" stroke="#ddd" stroke-width="0.5"/>
<rect x="159.9" y="193" width="2.2" height="2.2" fill="#fff" stroke="#bbb" stroke-width="0.5"/>
<text x="171.30" y="189.00" font-size="6.0" text-anchor="start" font-weight="normal" fill="#333" stroke="#333" stroke-width="0.1" >KW-2449</text>
<text x="171.30" y="196.20" font-size="6.0" text-anchor="start" font-weight="normal" fill="#333" stroke="#333" stroke-width="0.1" >M1</text>
<text transform="translate(34.6 241.4) rotate(-90)" font-size="11.5" font-weight="bold" stroke="#000" stroke-width="0.3" text-anchor="middle">% Control</text>
<text x="136.70" y="345.80" font-size="8.3" text-anchor="middle" font-weight="bold" fill="#000" stroke="#000" stroke-width="0.3" >Drug nM</text>
</g>
<g id="panelD">
<text x="266.50" y="150.60" font-size="11.6" text-anchor="start" font-weight="bold" fill="#000" stroke="#000" stroke-width="0.3" >D</text>
<rect x="304.40" y="160.65" width="191.10" height="159.65" fill="none" stroke="#d4d4d4" stroke-width="1.2"/>
<path d="M304.40 320.30v-2.4M304.40 160.65v2.4" stroke="#d4d4d4" stroke-width="0.8" fill="none"/>
<text x="304.40" y="331.20" font-size="7.15" text-anchor="middle" font-weight="bold" fill="#000" stroke="#000" stroke-width="0.3" >0</text>
<path d="M312.36 320.30v-1.2M312.36 160.65v1.2" stroke="#d4d4d4" stroke-width="0.8" fill="none"/>
<path d="M320.32 320.30v-1.2M320.32 160.65v1.2" stroke="#d4d4d4" stroke-width="0.8" fill="none"/>
<path d="M328.29 320.30v-1.2M328.29 160.65v1.2" stroke="#d4d4d4" stroke-width="0.8" fill="none"/>
<path d="M336.25 320.30v-2.4M336.25 160.65v2.4" stroke="#d4d4d4" stroke-width="0.8" fill="none"/>
<text x="336.25" y="331.20" font-size="7.15" text-anchor="middle" font-weight="bold" fill="#000" stroke="#000" stroke-width="0.3" >20</text>
<path d="M344.21 320.30v-1.2M344.21 160.65v1.2" stroke="#d4d4d4" stroke-width="0.8" fill="none"/>
<path d="M352.17 320.30v-1.2M352.17 160.65v1.2" stroke="#d4d4d4" stroke-width="0.8" fill="none"/>
<path d="M360.14 320.30v-1.2M360.14 160.65v1.2" stroke="#d4d4d4" stroke-width="0.8" fill="none"/>
<path d="M368.10 320.30v-2.4M368.10 160.65v2.4" stroke="#d4d4d4" stroke-width="0.8" fill="none"/>
<text x="368.10" y="331.20" font-size="7.15" text-anchor="middle" font-weight="bold" fill="#000" stroke="#000" stroke-width="0.3" >40</text>
<path d="M376.06 320.30v-1.2M376.06 160.65v1.2" stroke="#d4d4d4" stroke-width="0.8" fill="none"/>
<path d="M384.02 320.30v-1.2M384.02 160.65v1.2" stroke="#d4d4d4" stroke-width="0.8" fill="none"/>
<path d="M391.99 320.30v-1.2M391.99 160.65v1.2" stroke="#d4d4d4" stroke-width="0.8" fill="none"/>
<path d="M399.95 320.30v-2.4M399.95 160.65v2.4" stroke="#d4d4d4" stroke-width="0.8" fill="none"/>
<text x="399.95" y="331.20" font-size="7.15" text-anchor="middle" font-weight="bold" fill="#000" stroke="#000" stroke-width="0.3" >60</text>
<path d="M407.91 320.30v-1.2M407.91 160.65v1.2" stroke="#d4d4d4" stroke-width="0.8" fill="none"/>
<path d="M415.88 320.30v-1.2M415.88 160.65v1.2" stroke="#d4d4d4" stroke-width="0.8" fill="none"/>
<path d="M423.84 320.30v-1.2M423.84 160.65v1.2" stroke="#d4d4d4" stroke-width="0.8" fill="none"/>
<path d="M431.80 320.30v-2.4M431.80 160.65v2.4" stroke="#d4d4d4" stroke-width="0.8" fill="none"/>
<text x="431.80" y="331.20" font-size="7.15" text-anchor="middle" font-weight="bold" fill="#000" stroke="#000" stroke-width="0.3" >80</text>
<path d="M439.76 320.30v-1.2M439.76 160.65v1.2" stroke="#d4d4d4" stroke-width="0.8" fill="none"/>
<path d="M447.73 320.30v-1.2M447.73 160.65v1.2" stroke="#d4d4d4" stroke-width="0.8" fill="none"/>
<path d="M455.69 320.30v-1.2M455.69 160.65v1.2" stroke="#d4d4d4" stroke-width="0.8" fill="none"/>
<path d="M463.65 320.30v-2.4M463.65 160.65v2.4" stroke="#d4d4d4" stroke-width="0.8" fill="none"/>
<text x="463.65" y="331.20" font-size="7.15" text-anchor="middle" font-weight="bold" fill="#000" stroke="#000" stroke-width="0.3" >100</text>
<path d="M471.61 320.30v-1.2M471.61 160.65v1.2" stroke="#d4d4d4" stroke-width="0.8" fill="none"/>
<path d="M479.58 320.30v-1.2M479.58 160.65v1.2" stroke="#d4d4d4" stroke-width="0.8" fill="none"/>
<path d="M487.54 320.30v-1.2M487.54 160.65v1.2" stroke="#d4d4d4" stroke-width="0.8" fill="none"/>
<path d="M495.50 320.30v-2.4M495.50 160.65v2.4" stroke="#d4d4d4" stroke-width="0.8" fill="none"/>
<text x="495.50" y="331.20" font-size="7.15" text-anchor="middle" font-weight="bold" fill="#000" stroke="#000" stroke-width="0.3" >120</text>
<path d="M304.40 320.30h2.2M495.50 320.30h-2.2" stroke="#d4d4d4" stroke-width="0.8" fill="none"/>
<text x="299.90" y="323.10" font-size="7.15" text-anchor="end" font-weight="bold" fill="#000" stroke="#000" stroke-width="0.3" >0</text>
<path d="M304.40 291.27h2.2M495.50 291.27h-2.2" stroke="#d4d4d4" stroke-width="0.8" fill="none"/>
<text x="299.90" y="294.07" font-size="7.15" text-anchor="end" font-weight="bold" fill="#000" stroke="#000" stroke-width="0.3" >20</text>
<path d="M304.40 262.24h2.2M495.50 262.24h-2.2" stroke="#d4d4d4" stroke-width="0.8" fill="none"/>
<text x="299.90" y="265.04" font-size="7.15" text-anchor="end" font-weight="bold" fill="#000" stroke="#000" stroke-width="0.3" >40</text>
<path d="M304.40 233.22h2.2M495.50 233.22h-2.2" stroke="#d4d4d4" stroke-width="0.8" fill="none"/>
<text x="299.90" y="236.02" font-size="7.15" text-anchor="end" font-weight="bold" fill="#000" stroke="#000" stroke-width="0.3" >60</text>
<path d="M304.40 204.19h2.2M495.50 204.19h-2.2" stroke="#d4d4d4" stroke-width="0.8" fill="none"/>
<text x="299.90" y="206.99" font-size="7.15" text-anchor="end" font-weight="bold" fill="#000" stroke="#000" stroke-width="0.3" >80</text>
<path d="M304.40 175.16h2.2M495.50 175.16h-2.2" stroke="#d4d4d4" stroke-width="0.8" fill="none"/>
<text x="299.90" y="177.96" font-size="7.15" text-anchor="end" font-weight="bold" fill="#000" stroke="#000" stroke-width="0.3" >100</text>
<polyline points="304.40,175.16 320.32,176.32 336.25,177.92 384.02,181.84 463.65,190.54" fill="none" stroke="#cecece" stroke-width="1" stroke-dasharray="2 2.3"/>
<polyline points="304.40,175.16 320.32,177.77 336.25,180.68 384.02,188.22 463.65,191.71" fill="none" stroke="#cecece" stroke-width="1" stroke-dasharray="2 2.3"/>
<polyline points="304.40,175.16 320.32,184.88 336.25,194.61 384.02,194.32 463.65,203.61" fill="none" stroke="#cecece" stroke-width="1" stroke-dasharray="2 2.3"/>
<polyline points="304.40,175.16 320.32,187.06 336.25,198.82 384.02,223.20 463.65,236.84" fill="none" stroke="#cecece" stroke-width="1" stroke-dasharray="2 2.3"/>
<circle cx="336.25" cy="177.92" r="1.9" fill="#fff" stroke="#a4a4a4" stroke-width="0.7"/>
<circle cx="384.02" cy="181.84" r="1.9" fill="#fff" stroke="#a4a4a4" stroke-width="0.7"/>
<circle cx="463.65" cy="190.54" r="1.9" fill="#fff" stroke="#a4a4a4" stroke-width="0.7"/>
<path d="M333.95 180.68L336.25 178.88L338.55 180.68L336.25 182.48Z" fill="#fff" stroke="#a4a4a4" stroke-width="0.7"/>
<path d="M381.72 188.22L384.02 186.42L386.32 188.22L384.02 190.02Z" fill="#fff" stroke="#a4a4a4" stroke-width="0.7"/>
<path d="M461.35 191.71L463.65 189.91L465.95 191.71L463.65 193.51Z" fill="#fff" stroke="#a4a4a4" stroke-width="0.7"/>
<path d="M334.95 194.61h2.6M336.25 193.31v2.6" fill="none" stroke="#a4a4a4" stroke-width="0.7"/>
<path d="M382.72 194.32h2.6M384.02 193.02v2.6" fill="none" stroke="#a4a4a4" stroke-width="0.7"/>
<path d="M462.35 203.61h2.6M463.65 202.31v2.6" fill="none" stroke="#a4a4a4" stroke-width="0.7"/>
<path d="M334.25 200.32L336.25 196.82L338.25 200.32Z" fill="#fff" stroke="#a4a4a4" stroke-width="0.7"/>
<path d="M382.02 224.70L384.02 221.20L386.02 224.70Z" fill="#fff" stroke="#a4a4a4" stroke-width="0.7"/>
<path d="M461.65 238.34L463.65 234.84L465.65 238.34Z" fill="#fff" stroke="#a4a4a4" stroke-width="0.7"/>
<polyline points="304.40,175.16 320.32,192.14 336.25,213.19 384.02,223.35 463.65,229.01" fill="none" stroke="#c4c4c4" stroke-width="1"/>
<polyline points="304.40,175.16 320.32,200.56 336.25,218.41 384.02,237.57 463.65,244.97" fill="none" stroke="#c4c4c4" stroke-width="1"/>
<polyline points="304.40,175.16 320.32,208.54 336.25,215.80 384.02,232.93 463.65,236.41" fill="none" stroke="#c4c4c4" stroke-width="1"/>
<polyline points="304.40,175.16 320.32,219.28 336.25,244.25 384.02,254.70 463.65,262.82" fill="none" stroke="#c4c4c4" stroke-width="1"/>
<path d="M319.12 207.34l2.4 2.4M319.12 209.74l2.4 -2.4" fill="none" stroke="#777" stroke-width="0.6"/>
<path d="M335.05 214.60l2.4 2.4M335.05 217.00l2.4 -2.4" fill="none" stroke="#777" stroke-width="0.6"/>
<path d="M382.82 231.73l2.4 2.4M382.82 234.13l2.4 -2.4" fill="none" stroke="#777" stroke-width="0.6"/>
<path d="M462.45 235.21l2.4 2.4M462.45 237.61l2.4 -2.4" fill="none" stroke="#777" stroke-width="0.6"/>
<circle cx="320.32" cy="192.14" r="1.8" fill="#000"/>
<circle cx="336.25" cy="213.19" r="1.8" fill="#000"/>
<circle cx="384.02" cy="223.35" r="1.8" fill="#000"/>
<circle cx="463.65" cy="229.01" r="1.8" fill="#000"/>
<rect x="318.52" y="198.76" width="3.6" height="3.6" fill="#000"/>
<rect x="334.45" y="216.61" width="3.6" height="3.6" fill="#000"/>
<rect x="382.22" y="235.77" width="3.6" height="3.6" fill="#000"/>
<rect x="461.85" y="243.17" width="3.6" height="3.6" fill="#000"/>
<path d="M318.43 220.78L320.32 217.28L322.22 220.78Z" fill="#000"/>
<path d="M334.35 245.75L336.25 242.25L338.15 245.75Z" fill="#000"/>
<path d="M382.12 256.20L384.02 252.70L385.92 256.20Z" fill="#000"/>
<path d="M461.75 264.32L463.65 260.82L465.55 264.32Z" fill="#000"/>
<rect x="302.80" y="173.56" width="3.2" height="3.2" fill="#bbb" stroke="#1a1a1a" stroke-width="0.9"/>
<text x="399.90" y="346.50" font-size="9.6" text-anchor="middle" font-weight="bold" fill="#000" stroke="#000" stroke-width="0.3" >KW-2449 nM</text>
</g>
</g>
</svg>
</body></html>
